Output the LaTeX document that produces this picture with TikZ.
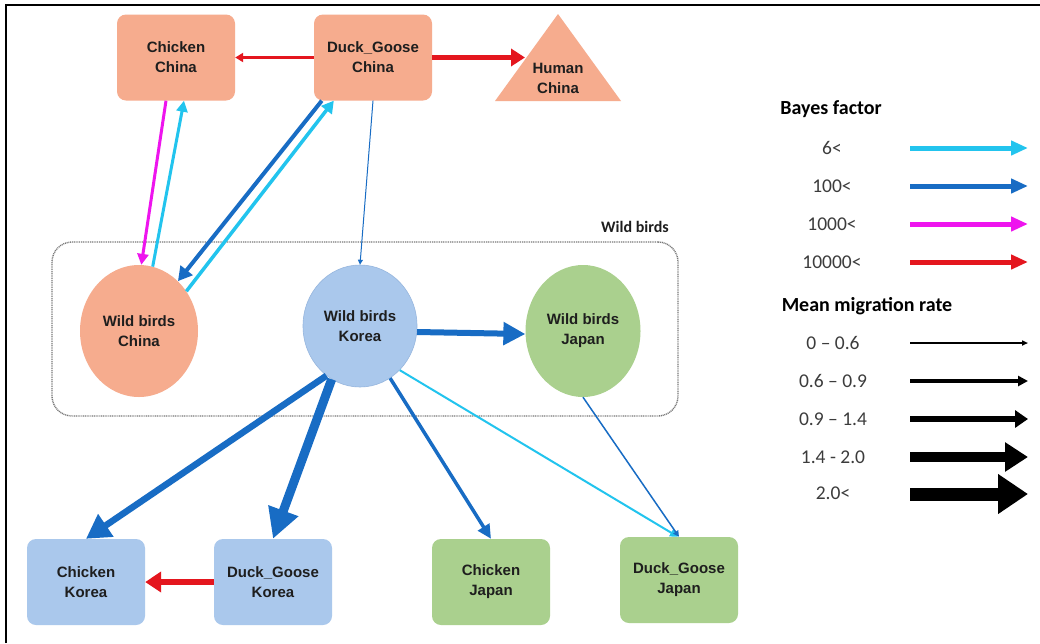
\documentclass[tikz,border=0pt]{standalone}
\usepackage{fontspec}
\setmainfont{Liberation Sans}
\newfontfamily\legfont{Carlito}
\usetikzlibrary{arrows.meta,calc,shapes.geometric}

\definecolor{chinaF}{RGB}{246,172,142}
\definecolor{koreaF}{RGB}{170,200,236}
\definecolor{koreaB}{RGB}{150,182,222}
\definecolor{japanF}{RGB}{170,208,142}
\definecolor{cyanA}{RGB}{34,196,238}
\definecolor{blueA}{RGB}{24,108,196}
\definecolor{magA}{RGB}{238,20,238}
\definecolor{redA}{RGB}{228,22,30}
\definecolor{txt}{RGB}{30,30,30}
\definecolor{legtxt}{RGB}{60,60,60}
\definecolor{grpline}{RGB}{120,120,120}

\begin{document}
\begin{tikzpicture}[x=1pt,y=-1pt,
  box/.style={rectangle,rounded corners=9pt,minimum width=118pt,minimum height=86pt,
    inner sep=0pt,align=center,font=\fontsize{15}{20}\selectfont\bfseries,text=txt},
  bird/.style={ellipse,inner sep=0pt,align=center,
    font=\fontsize{15}{20}\selectfont\bfseries,text=txt},
  arr/.style n args={3}{line width=#1,-{Triangle[length=#2,width=#3]}},
  leghead/.style={font=\legfont\fontsize{20}{22}\selectfont\bfseries,text=black,inner sep=0pt},
  legval/.style={font=\legfont\fontsize{19.5}{22}\selectfont,text=legtxt,inner sep=0pt},
]
\useasboundingbox (0,0) rectangle (1040,643);
\fill[white] (0,0) rectangle (1040,643);
% frame (top and left)
\coordinate (fTL) at (6,5);
\coordinate (fTR) at (1040,5);
\coordinate (fBL) at (6,643);
\draw[line width=1.5pt,black] (fBL) -- (fTL) -- (fTR);

% wild birds group
\node[draw=grpline,line width=1.4pt,dash pattern=on 1pt off 0.8pt,rounded corners=20pt,
  minimum width=626pt,minimum height=174pt] (grp) at (365,329) {};
\node[font=\legfont\fontsize{16}{18}\selectfont\bfseries,text=txt,inner sep=0pt] (grplab) at (635,227) {Wild birds};

% China
\node[box,fill=chinaF] (ckC) at (176,57.5) {Chicken\\China};
\node[box,fill=chinaF] (dgC) at (373,57.5) {Duck\_Goose\\China};
\coordinate (hTop) at (558,14);
\coordinate (hR) at (621,101);
\coordinate (hL) at (495,101);
\fill[chinaF] (hTop) -- (hR) -- (hL) -- cycle;
\node[font=\fontsize{15}{20}\selectfont\bfseries,text=txt,align=center,inner sep=0pt] (human) at (558,78) {Human\\China};
\coordinate (humanL) at (525,57.5);

% wild birds
\node[bird,fill=chinaF,minimum width=118pt,minimum height=132pt] (wbC) at (139,331) {Wild birds\\China};
\node[bird,fill=koreaF,draw=koreaB,line width=0.6pt,minimum width=114pt,minimum height=122pt] (wbK) at (360,326) {Wild birds\\Korea};
\node[bird,fill=japanF,minimum width=115pt,minimum height=132pt] (wbJ) at (583,331) {Wild birds\\Japan};

% Korea / Japan poultry
\node[box,fill=koreaF] (ckK) at (86,582) {Chicken\\Korea};
\node[box,fill=koreaF] (dgK) at (273,582) {Duck\_Goose\\Korea};
\node[box,fill=japanF] (ckJ) at (491,582) {Chicken\\Japan};
\node[box,fill=japanF] (dgJ) at (679,580) {Duck\_Goose\\Japan};

% connectors
\draw[arr={2.5pt}{8pt}{9pt},redA] (dgC.west) -- (ckC.east);
\draw[arr={5pt}{14pt}{17pt},redA] (dgC.east) -- (humanL);
\draw[arr={3pt}{11pt}{11pt},magA] ($(ckC.south)+(-10,0)$) -- (wbC.88);
\draw[arr={3pt}{11pt}{11pt},cyanA] (wbC.78) -- ($(ckC.south)+(8,0)$);
\draw[arr={4pt}{14pt}{15pt},blueA] ($(dgC.south west)+(8,0)$) -- (wbC.52);
\draw[arr={3.5pt}{12pt}{13pt},cyanA] (wbC.40) -- ($(dgC.south west)+(20,0)$);
\draw[arr={1pt}{5pt}{5pt},blueA] (dgC.south) -- (wbK.north);
\draw[arr={6pt}{22pt}{22pt},blueA] (wbK.-6) -- (wbJ.183);
\draw[arr={6.5pt}{24pt}{26pt},blueA] (wbK.236) -- (ckK.north);
\draw[arr={9pt}{30pt}{30pt},blueA] (wbK.242) -- (dgK.north);
\draw[arr={3.5pt}{14pt}{13pt},blueA] (wbK.300) -- (ckJ.north);
\draw[arr={2pt}{8pt}{8pt},cyanA] (wbK.312) -- ($(dgJ.north)+(-1,0)$);
\draw[arr={1.5pt}{6pt}{6pt},blueA] (wbJ.south) -- (dgJ.north);
\draw[arr={6pt}{16pt}{20pt},redA] (dgK.west) -- (ckK.east);

% legend
\node[leghead] (bf) at (831,109) {Bayes factor};
\node[legval] (v1) at (832,148) {6<};
\node[legval] (v2) at (832,186) {100<};
\node[legval] (v3) at (832,224) {1000<};
\node[legval] (v4) at (832,262) {10000<};
\foreach \i/\y in {1/148,2/186,3/224,4/262}{
  \coordinate (bs\i) at (910,\y);
  \coordinate (be\i) at (1028,\y);
}
\draw[arr={5pt}{17pt}{14pt},cyanA] (bs1) -- (be1);
\draw[arr={5pt}{17pt}{14pt},blueA] (bs2) -- (be2);
\draw[arr={5pt}{17pt}{14pt},magA] (bs3) -- (be3);
\draw[arr={5pt}{17pt}{14pt},redA] (bs4) -- (be4);

\node[leghead] (mm) at (867,306) {Mean migration rate};
\node[legval] (m1) at (833,343) {0 – 0.6};
\node[legval] (m2) at (833,381) {0.6 – 0.9};
\node[legval] (m3) at (833,419) {0.9 – 1.4};
\node[legval] (m4) at (833,457) {1.4 - 2.0};
\node[legval] (m5) at (833,493) {2.0<};
\foreach \i/\y in {1/343,2/381,3/419,4/457,5/494}{
  \coordinate (ms\i) at (910,\y);
  \coordinate (me\i) at (1028,\y);
}
\draw[arr={1.5pt}{6pt}{5pt},black] (ms1) -- (me1);
\draw[arr={3.5pt}{10pt}{10pt},black] (ms2) -- (me2);
\draw[arr={5.5pt}{13pt}{17pt},black] (ms3) -- (me3);
\draw[arr={10pt}{23pt}{28pt},black] (ms4) -- (me4);
\draw[arr={13pt}{30pt}{38pt},black] (ms5) -- (me5);
\end{tikzpicture}
\end{document}
